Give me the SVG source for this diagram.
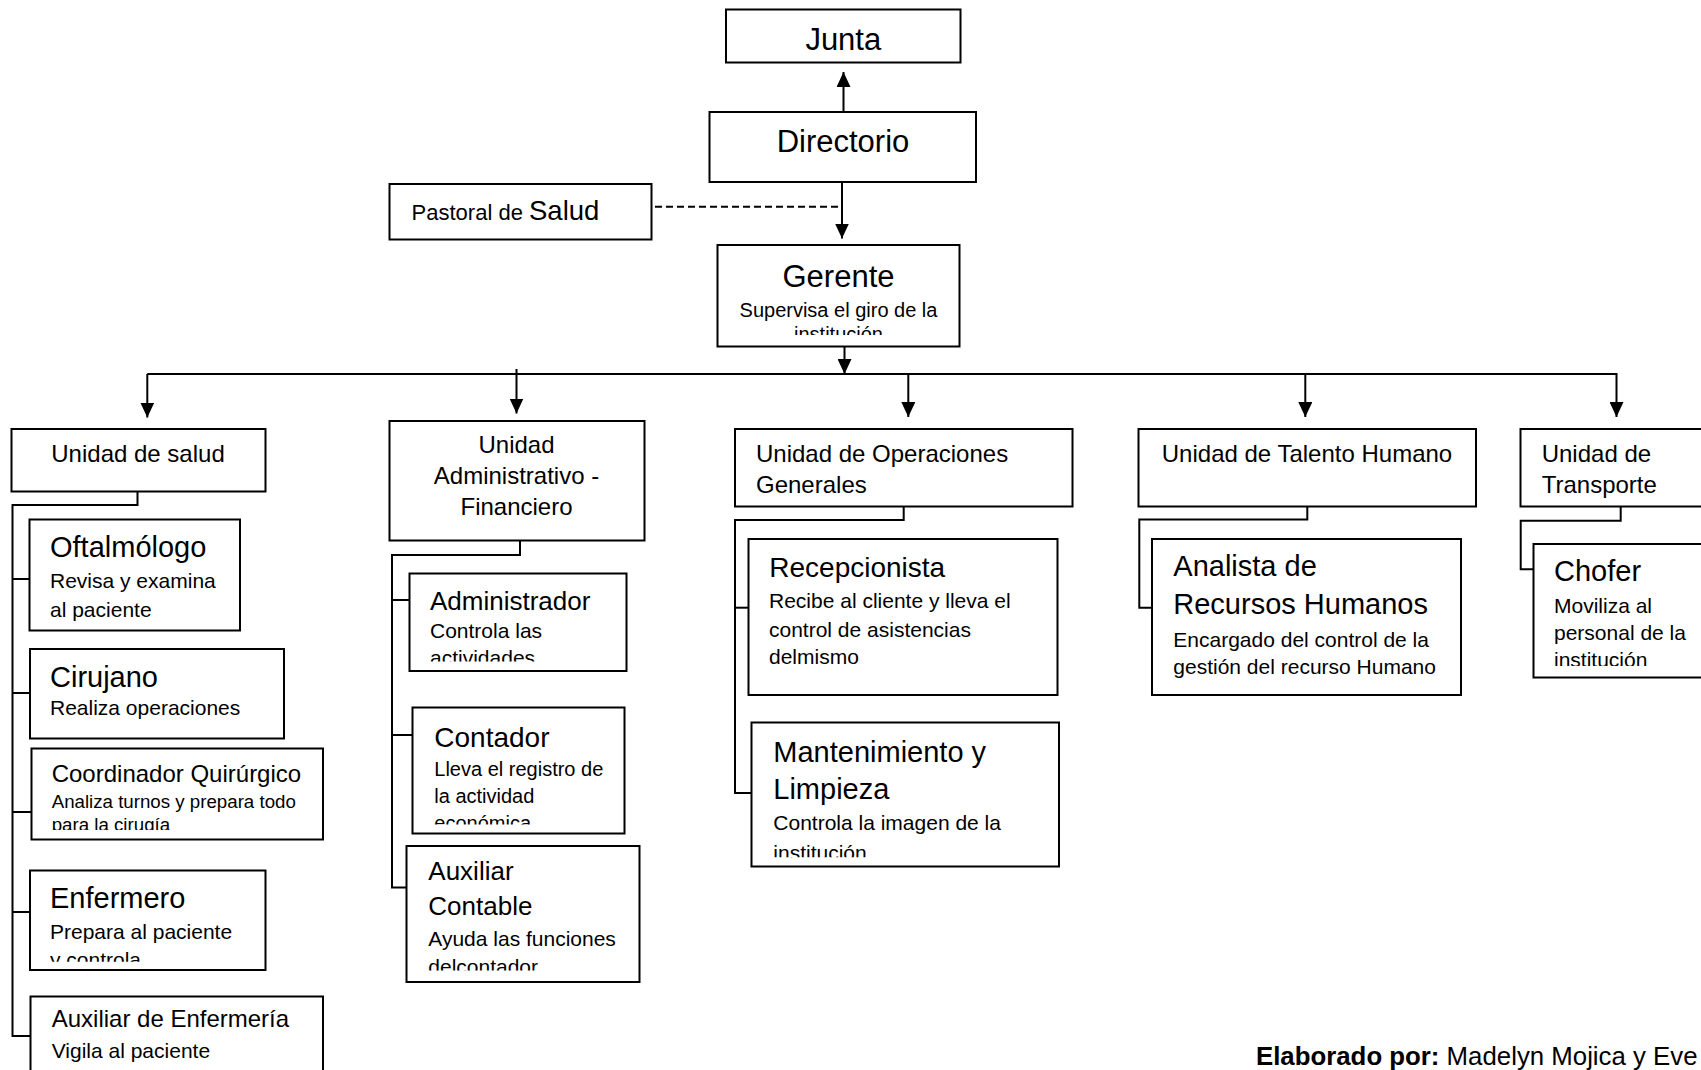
<svg xmlns="http://www.w3.org/2000/svg" width="1701" height="1070" viewBox="0 0 1701 1070">
  <style>
    .box { fill: #fff; stroke: #000; stroke-width: 2; }
    .ln { fill: none; stroke: #000; stroke-width: 2; }
    .dash { fill: none; stroke: #000; stroke-width: 2; stroke-dasharray: 7 4; }
    text { font-family: "Liberation Sans", Arial, sans-serif; fill: #000; }
    .big { font-size: 31px; }
    .unit { font-size: 24px; }
    .title { font-size: 29px; }
    .desc { font-size: 21px; }
    .mid { text-anchor: middle; }
  </style>
  <defs>
    <marker id="arrow" markerUnits="userSpaceOnUse" markerWidth="15" markerHeight="14" refX="15" refY="7" orient="auto">
      <path d="M0,0 L15,7 L0,14 Z" fill="#000"/>
    </marker>
    <clipPath id="clipGerente"><rect x="717" y="245" width="243" height="90"/></clipPath>
    <clipPath id="clipCoord"><rect x="31" y="748" width="292" height="82"/></clipPath>
    <clipPath id="clipEnfermero"><rect x="30" y="870" width="236" height="91.7"/></clipPath>
    <clipPath id="clipAdministrador"><rect x="409" y="573" width="218" height="88.6"/></clipPath>
    <clipPath id="clipContador"><rect x="412" y="707" width="213" height="117.4"/></clipPath>
    <clipPath id="clipAuxContable"><rect x="406" y="846" width="234" height="124.5"/></clipPath>
    <clipPath id="clipMantenimiento"><rect x="751" y="722" width="308" height="135.3"/></clipPath>
    <clipPath id="clipChofer"><rect x="1533" y="544" width="200" height="122"/></clipPath>
  </defs>

  <rect width="1701" height="1070" fill="#fff"/>

  <!-- connectors -->
  <g id="connectors">
    <line class="ln" x1="843.5" y1="112" x2="843.5" y2="72" marker-end="url(#arrow)"/>
    <line class="ln" x1="842" y1="182" x2="842" y2="238.5" marker-end="url(#arrow)"/>
    <line class="dash" x1="655" y1="206.7" x2="842" y2="206.7"/>
    <line class="ln" x1="844.5" y1="347" x2="844.5" y2="374" marker-end="url(#arrow)"/>
    <line class="ln" x1="147.3" y1="374" x2="1616.5" y2="374"/>
    <line class="ln" x1="147.3" y1="374" x2="147.3" y2="417.5" marker-end="url(#arrow)"/>
    <line class="ln" x1="516.5" y1="369" x2="516.5" y2="413.5" marker-end="url(#arrow)"/>
    <line class="ln" x1="908.3" y1="374" x2="908.3" y2="417" marker-end="url(#arrow)"/>
    <line class="ln" x1="1305.3" y1="374" x2="1305.3" y2="417" marker-end="url(#arrow)"/>
    <line class="ln" x1="1616.5" y1="373" x2="1616.5" y2="417" marker-end="url(#arrow)"/>

    <!-- Unidad de salud branch -->
    <path class="ln" d="M137.5,491.7 V505 H12.5 V1036 H30"/>
    <path class="ln" d="M12.5,579 H29.5 M12.5,693 H30 M12.5,812 H31.5 M12.5,912 H30"/>
    <!-- Administrativo - Financiero branch -->
    <path class="ln" d="M520,540.5 V555 H392 V887.5 H406.5"/>
    <path class="ln" d="M392,600 H409.5 M392,735 H412.5"/>
    <!-- Operaciones Generales branch -->
    <path class="ln" d="M903.7,506.5 V520 H735 V793 H751.5"/>
    <path class="ln" d="M735,607.7 H748.5"/>
    <!-- Talento Humano branch -->
    <path class="ln" d="M1307.3,506.5 V519.5 H1139.3 V607.7 H1152"/>
    <!-- Transporte branch -->
    <path class="ln" d="M1620.7,506.5 V520.7 H1520.7 V569.3 H1533.5"/>
  </g>

  <!-- top levels -->
  <g id="junta">
    <rect class="box" x="726" y="9.5" width="234.5" height="53"/>
    <text class="big mid" x="843.3" y="50">Junta</text>
  </g>
  <g id="directorio">
    <rect class="box" x="709.5" y="112" width="266.5" height="70"/>
    <text class="big mid" x="843" y="151.7">Directorio</text>
  </g>
  <g id="pastoral">
    <rect class="box" x="389.5" y="184" width="262" height="55.5"/>
    <text x="411.6" y="220" font-size="22">Pastoral de <tspan font-size="27.5">Salud</tspan></text>
  </g>
  <g id="gerente">
    <rect class="box" x="717.5" y="245" width="242" height="101.5"/>
    <text class="big mid" x="838.5" y="286.7">Gerente</text>
    <g clip-path="url(#clipGerente)">
      <text class="mid" font-size="20" x="838.5" y="316.7">Supervisa el giro de la</text>
      <text class="mid" font-size="20" x="838.5" y="341">institución</text>
    </g>
  </g>

  <!-- Unidad de salud -->
  <g id="unidad-salud">
    <rect class="box" x="11.5" y="429" width="254" height="62.5"/>
    <text class="unit mid" x="138" y="461.7">Unidad de salud</text>
  </g>
  <g id="oftalmologo">
    <rect class="box" x="29.5" y="519.5" width="210.5" height="111"/>
    <text class="title" x="50" y="556.7">Oftalmólogo</text>
    <text class="desc" x="50" y="588.3">Revisa y examina</text>
    <text class="desc" x="50" y="616.7">al paciente</text>
  </g>
  <g id="cirujano">
    <rect class="box" x="30" y="649" width="254" height="89.5"/>
    <text class="title" x="50" y="686.7">Cirujano</text>
    <text class="desc" x="50" y="715">Realiza operaciones</text>
  </g>
  <g id="coordinador">
    <rect class="box" x="31.5" y="748.5" width="291.5" height="91"/>
    <text class="unit" x="51.7" y="781.7">Coordinador Quirúrgico</text>
    <g clip-path="url(#clipCoord)">
      <text font-size="18.7" x="51.7" y="808.3">Analiza turnos y prepara todo</text>
      <text font-size="18.7" x="51.7" y="831">para la cirugía</text>
    </g>
  </g>
  <g id="enfermero">
    <rect class="box" x="30" y="870.5" width="235.5" height="99.5"/>
    <text class="title" x="50" y="908.3">Enfermero</text>
    <g clip-path="url(#clipEnfermero)">
      <text class="desc" x="50" y="939.3">Prepara al paciente</text>
      <text class="desc" x="50" y="967.3">y controla</text>
    </g>
  </g>
  <g id="auxiliar-enfermeria">
    <rect class="box" x="30.5" y="996.5" width="292.5" height="90"/>
    <text class="unit" x="51.7" y="1027.3">Auxiliar de Enfermería</text>
    <text class="desc" x="51.7" y="1058.3">Vigila al paciente</text>
  </g>

  <!-- Unidad Administrativo - Financiero -->
  <g id="unidad-administrativo">
    <rect class="box" x="389.5" y="421" width="255" height="119.5"/>
    <text class="unit mid" x="516.5" y="452.5">Unidad</text>
    <text class="unit mid" x="516.5" y="484">Administrativo -</text>
    <text class="unit mid" x="516.5" y="515.4">Financiero</text>
  </g>
  <g id="administrador">
    <rect class="box" x="409.5" y="573.5" width="217" height="97.5"/>
    <text font-size="26" x="430" y="609.8">Administrador</text>
    <g clip-path="url(#clipAdministrador)">
      <text class="desc" x="430" y="637.5">Controla las</text>
      <text class="desc" x="430" y="664.5">actividades</text>
    </g>
  </g>
  <g id="contador">
    <rect class="box" x="412.5" y="707.5" width="212" height="126"/>
    <text font-size="28" x="434.3" y="746.7">Contador</text>
    <g clip-path="url(#clipContador)">
      <text font-size="20" x="434.3" y="776.3">Lleva el registro de</text>
      <text font-size="20" x="434.3" y="802.9">la actividad</text>
      <text font-size="20" x="434.3" y="829.5">económica</text>
    </g>
  </g>
  <g id="auxiliar-contable">
    <rect class="box" x="406.5" y="846" width="233" height="136"/>
    <text font-size="26" x="428.3" y="879.8">Auxiliar</text>
    <text font-size="26" x="428.3" y="915">Contable</text>
    <g clip-path="url(#clipAuxContable)">
      <text class="desc" x="428.3" y="946.4">Ayuda las funciones</text>
      <text class="desc" x="428.3" y="974.4">delcontador</text>
    </g>
  </g>

  <!-- Unidad de Operaciones Generales -->
  <g id="unidad-operaciones">
    <rect class="box" x="735" y="429" width="337.5" height="77.5"/>
    <text class="unit" x="756" y="461.7">Unidad de Operaciones</text>
    <text class="unit" x="756" y="493.3">Generales</text>
  </g>
  <g id="recepcionista">
    <rect class="box" x="748.5" y="539" width="309" height="156"/>
    <text font-size="28" x="769.3" y="576.7">Recepcionista</text>
    <text class="desc" x="769" y="608.3">Recibe al cliente y lleva el</text>
    <text class="desc" x="769" y="636.7">control de asistencias</text>
    <text class="desc" x="769" y="664">delmismo</text>
  </g>
  <g id="mantenimiento">
    <rect class="box" x="751.5" y="722.5" width="307.5" height="144"/>
    <text class="title" x="773.3" y="761.7">Mantenimiento y</text>
    <text class="title" x="773.3" y="799.3">Limpieza</text>
    <g clip-path="url(#clipMantenimiento)">
      <text class="desc" x="773.3" y="830">Controla la imagen de la</text>
      <text class="desc" x="773.3" y="860">institución</text>
    </g>
  </g>

  <!-- Unidad de Talento Humano -->
  <g id="unidad-talento">
    <rect class="box" x="1138.5" y="429" width="337.5" height="77.5"/>
    <text class="unit mid" x="1307" y="461.7">Unidad de Talento Humano</text>
  </g>
  <g id="analista">
    <rect class="box" x="1152" y="539" width="309" height="156"/>
    <text class="title" x="1173.3" y="576">Analista de</text>
    <text class="title" x="1173.3" y="614.3">Recursos Humanos</text>
    <text class="desc" x="1173.3" y="646.7">Encargado del control de la</text>
    <text class="desc" x="1173.3" y="674">gestión del recurso Humano</text>
  </g>

  <!-- Unidad de Transporte -->
  <g id="unidad-transporte">
    <rect class="box" x="1520.5" y="429" width="200" height="77.5"/>
    <text class="unit" x="1541.7" y="461.7">Unidad de</text>
    <text class="unit" x="1541.7" y="493.3">Transporte</text>
  </g>
  <g id="chofer">
    <rect class="box" x="1533.5" y="544" width="200" height="133.5"/>
    <text class="title" x="1554" y="580.7">Chofer</text>
    <g clip-path="url(#clipChofer)">
      <text class="desc" x="1554" y="612.7">Moviliza al</text>
      <text class="desc" x="1554" y="640">personal de la</text>
      <text class="desc" x="1554" y="666.7">institución</text>
    </g>
  </g>

  <!-- credits -->
  <text x="1256" y="1065" font-size="25.8"><tspan font-weight="bold">Elaborado por:</tspan> Madelyn Mojica y Eve</text>
</svg>
